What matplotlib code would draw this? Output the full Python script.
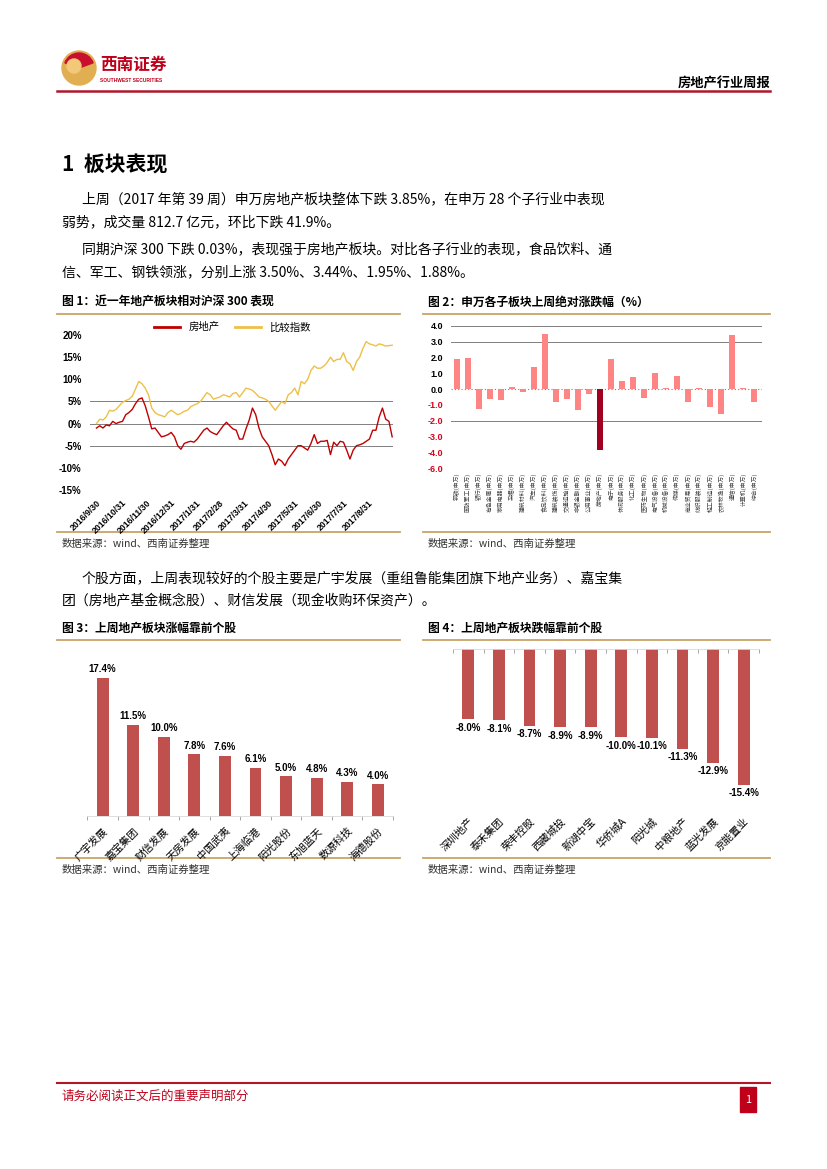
import matplotlib
matplotlib.use('Agg')
import matplotlib.pyplot as plt
import matplotlib.patches as mpatches
import pandas as pd

plt.rcParams['font.family'] = ['Noto Sans CJK SC', 'DejaVu Sans']
plt.rcParams['axes.unicode_minus'] = False

############################ 数据 ############################
# 图1：近一年地产板块相对沪深300表现（每4天读一个点）
trend_start = '2016-09-30'
trend_freq = '4D'
house_pct = [-1.0, -0.5, -1.0, -0.3, -0.5, 0.5, 0.0, 0.3, 0.5, 2.0,
             2.5, 3.2, 4.5, 5.5, 5.8, 4.0, 1.5, -1.2, -1.0, -2.0,
             -3.0, -2.8, -2.5, -2.0, -3.0, -5.0, -5.8, -4.5, -4.2, -4.0,
             -4.2, -3.5, -2.5, -1.5, -1.0, -1.8, -2.2, -2.5, -1.5, -0.5,
             0.3, -0.5, -1.2, -1.5, -3.5, -3.5, -1.2, 0.8, 3.5, 2.0,
             -1.0, -3.0, -4.0, -5.0, -7.0, -9.3, -8.0, -8.5, -9.5, -8.0,
             -7.0, -6.0, -5.0, -5.0, -5.5, -6.0, -4.5, -2.5, -4.5, -4.0,
             -4.0, -3.8, -7.0, -4.2, -5.0, -4.0, -4.2, -6.0, -8.0, -6.0,
             -5.0, -4.8, -4.5, -4.0, -3.5, -1.5, -1.5, 1.5, 3.5, 1.0,
             0.5, -3.0]
bench_pct = [0.0, 1.0, 0.8, 1.5, 3.0, 2.8, 3.2, 4.0, 4.8, 5.2,
             5.5, 6.2, 7.8, 9.5, 9.0, 8.0, 6.5, 3.5, 2.5, 2.0,
             1.8, 1.5, 2.5, 3.0, 2.5, 2.0, 2.3, 2.8, 3.0, 3.8,
             4.2, 4.5, 5.0, 6.0, 7.0, 6.5, 5.5, 5.8, 6.0, 6.5,
             6.3, 6.0, 6.8, 7.0, 6.0, 7.0, 8.0, 7.8, 7.5, 6.8,
             6.0, 5.8, 5.5, 5.0, 4.0, 3.0, 4.0, 5.0, 4.5, 6.5,
             7.0, 8.0, 6.5, 9.5, 9.0, 10.0, 12.0, 13.0, 12.5, 12.5,
             13.0, 13.8, 15.0, 14.0, 14.5, 14.5, 16.0, 14.0, 13.5, 12.0,
             14.0, 15.0, 17.0, 18.5, 18.0, 17.8, 17.5, 18.0, 17.8, 17.5,
             17.6, 17.7]
trend_ticks = ['2016-09-30', '2016-10-31', '2016-11-30', '2016-12-31', '2017-01-31', '2017-02-28',
               '2017-03-31', '2017-04-30', '2017-05-31', '2017-06-30', '2017-07-31', '2017-08-31']
trend_ylabels = ['-15%', '-10%', '-5%', '0%', '5%', '10%', '15%', '20%']
trend_yticks = [-15, -10, -5, 0, 5, 10, 15, 20]

# 图2：申万各子板块上周绝对涨跌幅（%）
sectors = ['钢铁', '国防军工', '银行', '有色金属', '家用电器', '采掘', '建筑材料', '汽车',
           '食品饮料', '建筑装饰', '交通运输', '非银金融', '公用事业', '房地产', '电子',
           '休闲服务', '化工', '医药生物', '电气设备', '机械设备', '传媒', '商业贸易',
           '纺织服装', '轻工制造', '农林牧渔', '通信', '计算机', '综合']
sector_chg = [1.88, 1.95, -1.25, -0.65, -0.7, 0.1, -0.2, 1.4,
              3.50, -0.8, -0.6, -1.35, -0.3, -3.85, 1.9,
              0.5, 0.75, -0.55, 1.0, 0.05, 0.8, -0.8,
              0.05, -1.1, -1.6, 3.44, 0.05, -0.8]
sector_yticks = [4, 3, 2, 1, 0, -1, -2, -3, -4, -5]
sector_ylabels = ['4.0', '3.0', '2.0', '1.0', '0.0', '-1.0', '-2.0', '-3.0', '-4.0', '-6.0']

# 图3：上周地产板块涨幅靠前个股
up_names = ['广宇发展', '嘉宝集团', '财信发展', '天房发展', '中国武夷',
            '上海临港', '阳光股份', '东旭蓝天', '数源科技', '海德股份']
up_pct = [17.4, 11.5, 10.0, 7.8, 7.6, 6.1, 5.0, 4.8, 4.3, 4.0]

# 图4：上周地产板块跌幅靠前个股
down_names = ['深圳地产', '泰禾集团', '荣丰控股', '西藏城投', '新湖中宝',
              '华侨城A', '阳光城', '中粮地产', '蓝光发展', '京能置业']
down_pct = [-8.0, -8.1, -8.7, -8.9, -8.9, -10.0, -10.1, -11.3, -12.9, -15.4]

############################ 页面 ############################
W, H = 827, 1169
RED = '#C0001A'
GOLD_LINE = '#C9A467'
NUM_FONT = ['Liberation Sans', 'Noto Sans CJK SC']

fig = plt.figure(figsize=(W / 100, H / 100), dpi=100)
page = fig.add_axes([0, 0, 1, 1], zorder=-1)
page.set_xlim(0, W)
page.set_ylim(H, 0)
page.axis('off')


def box(x0, y0, x1, y1):
    return fig.add_axes([x0 / W, 1 - y1 / H, (x1 - x0) / W, (y1 - y0) / H])


def txt(x, y, s, **kw):
    page.text(x, y, s, va='center', **kw)


# 页眉
page.add_patch(mpatches.Circle((79, 68), 17, color='#E2AE52'))
page.add_patch(mpatches.Wedge((79, 68), 15, 200, 340, color='#C8102E'))
page.add_patch(mpatches.Circle((74, 66), 7, color='#F2C879'))
txt(100, 65, '西南证券', fontsize=12, color=RED, fontweight='bold')
txt(100, 80, 'SOUTHWEST SECURITIES', fontsize=3.5, color=RED, fontweight='bold', family=NUM_FONT)
txt(770, 83, '房地产行业周报', fontsize=9.5, fontweight='bold', ha='right')
page.plot([57, 770], [91, 91], color='#B0172B', lw=1.8)

# 页脚
page.plot([57, 770], [1083, 1083], color='#B0172B', lw=1.5)
txt(62, 1096, '请务必阅读正文后的重要声明部分', fontsize=9, color=RED)
page.add_patch(mpatches.Rectangle((740, 1087), 16, 25, color=RED))
txt(748, 1100, '1', fontsize=8, color='white', ha='center')

# 正文
txt(62, 165, '1  板块表现', fontsize=15, fontweight='bold')
txt(82, 199, '上周（2017 年第 39 周）申万房地产板块整体下跌 3.85%，在申万 28 个子行业中表现', fontsize=10)
txt(62, 222, '弱势，成交量 812.7 亿元，环比下跌 41.9%。', fontsize=10)
txt(82, 249, '同期沪深 300 下跌 0.03%，表现强于房地产板块。对比各子行业的表现，食品饮料、通', fontsize=10)
txt(62, 272, '信、军工、钢铁领涨，分别上涨 3.50%、3.44%、1.95%、1.88%。', fontsize=10)
txt(82, 578, '个股方面，上周表现较好的个股主要是广宇发展（重组鲁能集团旗下地产业务）、嘉宝集', fontsize=10)
txt(62, 600, '团（房地产基金概念股）、财信发展（现金收购环保资产）。', fontsize=10)

# 图标题、分隔线、数据来源
for x0, x1, ytitle, yline1, yline2, ysrc, title in [
        (57, 400, 302, 314, 532, 544, '图 1：近一年地产板块相对沪深 300 表现'),
        (423, 770, 302, 314, 532, 544, '图 2：申万各子板块上周绝对涨跌幅（%）'),
        (57, 400, 628, 640, 858, 870, '图 3：上周地产板块涨幅靠前个股'),
        (423, 770, 628, 640, 858, 870, '图 4：上周地产板块跌幅靠前个股')]:
    txt(x0 + 5, ytitle, title, fontsize=8.5, fontweight='bold')
    page.plot([x0, x1], [yline1, yline1], color=GOLD_LINE, lw=1.3)
    page.plot([x0, x1], [yline2, yline2], color=GOLD_LINE, lw=1.3)
    txt(x0 + 5, ysrc, '数据来源：wind、西南证券整理', fontsize=7.5, color='#333333')

############################ 图1 ############################
dates = pd.date_range(trend_start, periods=len(house_pct), freq=trend_freq)
ax1 = box(90, 335, 393, 490)
ax1.plot(dates, house_pct, color='#C00000', lw=1.0, label='房地产')
ax1.plot(dates, bench_pct, color='#EDC04A', lw=1.0, label='比较指数')
for lvl in (5, 0, -5):
    ax1.axhline(lvl, color='#808080', lw=0.7, zorder=0)
ax1.set_ylim(-15, 20)
ax1.set_xlim(pd.Timestamp('2016-09-22'), pd.Timestamp('2017-09-30'))
ax1.set_yticks(trend_yticks)
ax1.set_yticklabels(trend_ylabels, fontsize=7, fontweight='bold', family=NUM_FONT)
tick_ts = pd.to_datetime(trend_ticks)
ax1.set_xticks(tick_ts)
ax1.set_xticklabels([f'{t.year}/{t.month}/{t.day}' for t in tick_ts], rotation=45, ha='right',
                    rotation_mode='anchor', fontsize=6.3, fontweight='bold', family=NUM_FONT)
ax1.tick_params(length=0, pad=6)
for s in ax1.spines.values():
    s.set_visible(False)
leg = ax1.legend(loc='lower center', bbox_to_anchor=(0.47, 0.99), ncol=2, frameon=False,
                 fontsize=7.5, handlelength=2.5, columnspacing=1.5, borderaxespad=0)
for line in leg.get_lines():
    line.set_linewidth(2)

############################ 图2 ############################
ax2 = box(451.2, 325.7, 762, 468.3)
colors2 = ['#A0001E' if n == '房地产' else '#FF8585' for n in sectors]
ax2.bar(range(len(sectors)), sector_chg, width=0.55, color=colors2, zorder=2)
for lvl in (4, 3, -2):
    ax2.axhline(lvl, color='#808080', lw=0.7, zorder=0)
ax2.axhline(0, color='#808080', lw=0.8, ls=(0, (1, 2)), zorder=1)
ax2.set_ylim(-5, 4)
ax2.set_xlim(-0.5, len(sectors) - 0.3)
ax2.set_yticks(sector_yticks)
ax2.set_yticklabels(sector_ylabels, fontsize=6.5, fontweight='bold', family=NUM_FONT)
for lab, v in zip(ax2.get_yticklabels(), sector_yticks):
    lab.set_color('#E0001B' if v < 0 else 'black')
ax2.set_xticks(range(len(sectors)))
ax2.set_xticklabels([n + '(申万)' for n in sectors], rotation=90, fontsize=4.2, color='#444444')
ax2.tick_params(length=0, pad=3)
ax2.tick_params(axis='y', pad=6)
for s in ax2.spines.values():
    s.set_visible(False)

############################ 图3 ############################
BAR = '#C0504D'
ax3 = box(87.4, 657, 393, 816)
xs3 = range(len(up_names))
ax3.bar(xs3, up_pct, width=0.39, color=BAR)
for x, v in zip(xs3, up_pct):
    ax3.annotate(f'{v:.1f}%', (x, v), xytext=(0, 2.5), textcoords='offset points', ha='center',
                 va='bottom', fontsize=7, fontweight='bold', family=NUM_FONT)
ax3.set_ylim(0, 20)
ax3.set_xlim(-0.5, len(up_names) - 0.5)
ax3.set_yticks([])
ax3.set_xticks(list(xs3))
ax3.set_xticklabels(up_names, rotation=45, ha='right', rotation_mode='anchor', fontsize=7.5)
ax3.set_xticks([i - 0.5 for i in range(len(up_names) + 1)], minor=True)
ax3.tick_params(axis='x', which='major', length=0, pad=7)
ax3.tick_params(axis='x', which='minor', length=3, color='#999999', width=0.6)
for k, s in ax3.spines.items():
    s.set_visible(k == 'bottom')
ax3.spines['bottom'].set_color('#D9D9D9')
ax3.spines['bottom'].set_linewidth(0.6)

############################ 图4 ############################
ax4 = box(453, 649, 759, 812)
xs4 = range(len(down_names))
ax4.bar(xs4, down_pct, width=0.39, color=BAR)
for x, v in zip(xs4, down_pct):
    ax4.annotate(f'{v:.1f}%', (x, v), xytext=(0, -2.5), textcoords='offset points', ha='center',
                 va='top', fontsize=7, fontweight='bold', family=NUM_FONT)
ax4.set_ylim(-18.5, 0)
ax4.set_xlim(-0.5, len(down_names) - 0.5)
ax4.set_yticks([])
ax4.set_xticks(list(xs4))
ax4.set_xticklabels(down_names, rotation=45, ha='right', rotation_mode='anchor', fontsize=7.5)
ax4.set_xticks([i - 0.5 for i in range(len(down_names) + 1)], minor=True)
ax4.tick_params(axis='x', which='major', length=0, pad=3)
ax4.tick_params(axis='x', which='minor', bottom=False, top=True, direction='in', length=3,
                color='#999999', width=0.6)
for k, s in ax4.spines.items():
    s.set_visible(k == 'top')
ax4.spines['top'].set_color('#D9D9D9')
ax4.spines['top'].set_linewidth(0.6)

fig.savefig('out.png', dpi=100)
